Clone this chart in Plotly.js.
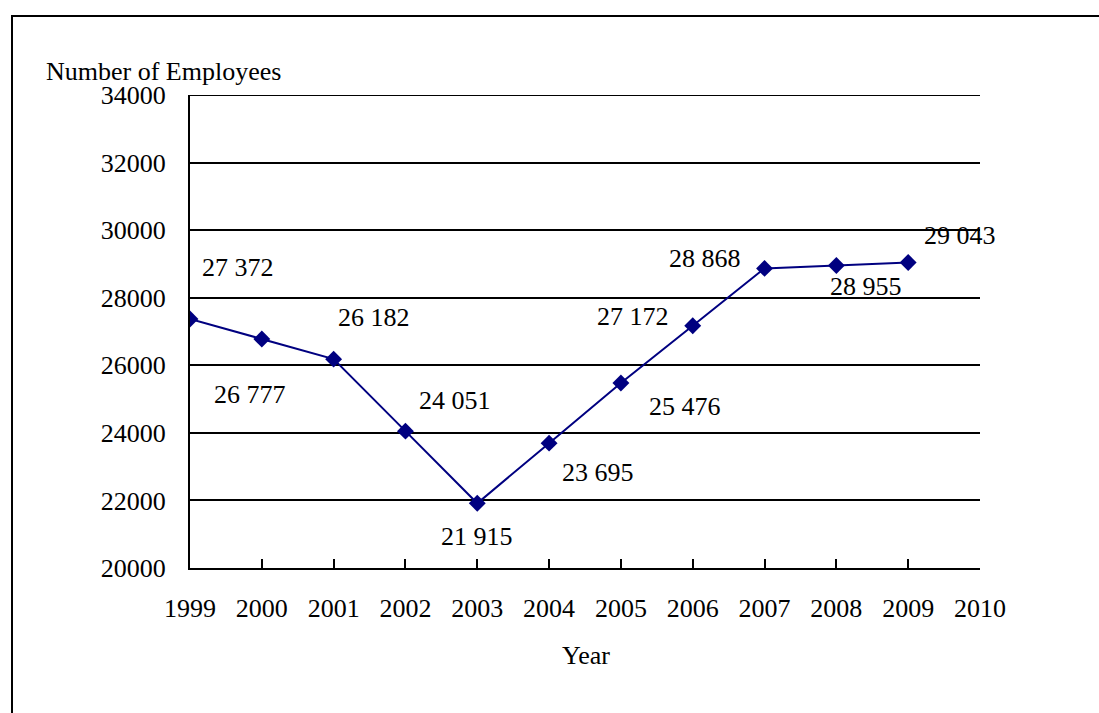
<!DOCTYPE html>
<html>
<head>
<meta charset="utf-8">
<script src="https://cdn.plot.ly/plotly-3.0.1.min.js"></script>
<style>
html,body{margin:0;padding:0;background:#fff;}
#chart{width:1099px;height:713px;}
</style>
</head>
<body>
<div id="chart"></div>
<script>
const years = [1999, 2000, 2001, 2002, 2003, 2004, 2005, 2006, 2007, 2008, 2009];
const employees = [27372, 26777, 26182, 24051, 21915, 23695, 25476, 27172, 28868, 28955, 29043];
const valueLabels = ["27 372", "26 777", "26 182", "24 051", "21 915", "23 695", "25 476", "27 172", "28 868", "28 955", "29 043"];
const yTicks = [20000, 22000, 24000, 26000, 28000, 30000, 32000, 34000];
const xTicks = [1999, 2000, 2001, 2002, 2003, 2004, 2005, 2006, 2007, 2008, 2009, 2010];
const xTitle = "Year";
const yTitle = "Number of Employees";

// label offsets in screen pixels (dx right, dy down)
const labelOffsets = [[48,-51],[-12,55],[40,-42],[50,-31],[0,33],[49,29],[64,24],[-60,-9],[-60,-10],[30,21],[52,-27]];

const FONT = "'Liberation Serif', 'Times New Roman', serif";
const FS = 26;

const annotations = years.map((yr, i) => ({
  x: yr, y: employees[i], xref: 'x', yref: 'y',
  text: valueLabels[i], showarrow: false,
  xshift: labelOffsets[i][0], yshift: -labelOffsets[i][1],
  font: {family: FONT, size: FS, color: '#000'},
  xanchor: 'center', yanchor: 'middle'
}));
annotations.push({
  x: (163-190)/790, y: (568-71)/473, xref: 'paper', yref: 'paper',
  text: yTitle, showarrow: false, xanchor: 'center', yanchor: 'middle',
  font: {family: FONT, size: FS, color: '#000'}
});
annotations.push({
  x: (586-190)/790, y: (568-655)/473, xref: 'paper', yref: 'paper',
  text: xTitle, showarrow: false, xanchor: 'center', yanchor: 'middle',
  font: {family: FONT, size: FS, color: '#000'}
});

const trace = {
  x: years, y: employees, type: 'scatter', mode: 'lines+markers',
  line: {color: '#000080', width: 2},
  marker: {symbol: 'diamond', size: 13, color: '#000080'},
  hoverinfo: 'skip'
};

const layout = {
  width: 1099, height: 713,
  margin: {l: 190, r: 119, t: 95, b: 145},
  paper_bgcolor: '#fff', plot_bgcolor: '#fff',
  showlegend: false,
  font: {family: FONT, size: FS, color: '#000'},
  xaxis: {
    range: [1999, 2010], tickvals: xTicks, ticktext: xTicks.map(String),
    showgrid: false, zeroline: false,
    showline: true, linecolor: '#000', linewidth: 2,
    ticks: 'inside', ticklen: 9, tickwidth: 2, tickcolor: '#000',
    ticklabelstandoff: 16,
    tickfont: {family: FONT, size: FS, color: '#000'}
  },
  yaxis: {
    range: [20000, 34000], tickvals: yTicks, ticktext: yTicks.map(String),
    showgrid: true, gridcolor: '#000', gridwidth: 2, zeroline: false,
    showline: true, linecolor: '#000', linewidth: 2,
    ticks: 'inside', ticklen: 8, tickwidth: 2, tickcolor: '#000',
    ticklabelstandoff: 17,
    tickfont: {family: FONT, size: FS, color: '#000'}
  },
  annotations: annotations,
  shapes: [{
    type: 'rect', xref: 'paper', yref: 'paper', layer: 'below',
    x0: (12-190)/790, x1: (1110-190)/790,
    y0: (568-730)/473, y1: (568-16)/473,
    line: {color: '#000', width: 2}, fillcolor: 'rgba(0,0,0,0)'
  }, {
    type: 'line', xref: 'paper', yref: 'y', layer: 'below',
    x0: 0, x1: 1, y0: yTicks[yTicks.length - 1], y1: yTicks[yTicks.length - 1],
    line: {color: '#000', width: 2}
  }]
};

Plotly.newPlot('chart', [trace], layout, {displayModeBar: false, staticPlot: true});
</script>
</body>
</html>
